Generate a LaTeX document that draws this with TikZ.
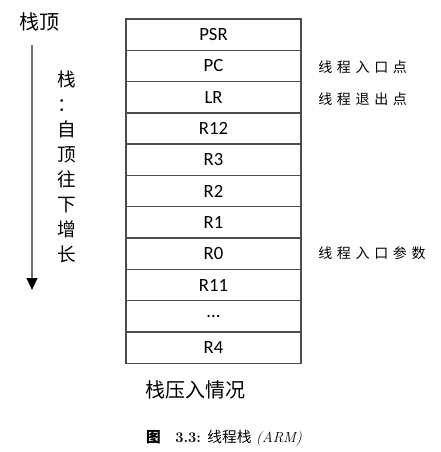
\documentclass[tikz,border=0pt]{standalone}
\usepackage{fontspec}
\setsansfont{Carlito}
\newfontfamily\cjk{Noto Sans CJK SC}
\usetikzlibrary{arrows.meta}
\newcommand\gap{\hspace{3.5pt}}
\tikzset{
  reg/.style={shape=rectangle,draw=black!70,line width=1pt,minimum width=131.25pt,
    minimum height=23.5pt,inner sep=0pt,font=\sffamily\fontsize{14}{14}\selectfont},
  note/.style={anchor=west,inner sep=0pt,font=\cjk\fontsize{10.5}{10.5}\selectfont}
}
\begin{document}
\begin{tikzpicture}[x=0.75pt,y=-0.75pt]
    \useasboundingbox (0,0) rectangle (441,452);
    \node[reg] (PSR) at (213.5,34.6) {PSR};
    \node[reg] (PC) at (213.5,65.9) {PC};
    \node[reg] (LR) at (213.5,97.2) {LR};
    \node[reg] (R12) at (213.5,128.5) {R12};
    \node[reg] (R3) at (213.5,159.8) {R3};
    \node[reg] (R2) at (213.5,191.1) {R2};
    \node[reg] (R1) at (213.5,222.4) {R1};
    \node[reg] (R0) at (213.5,253.7) {R0};
    \node[reg] (R11) at (213.5,285) {R11};
    \node[reg] (DOTS) at (213.5,316.3) {...};
    \node[reg] (R4) at (213.5,347.6) {R4};
    \node[note] (entry) at (318,67) {线\gap 程\gap 入\gap 口\gap 点};
    \node[note] (exit) at (318,99) {线\gap 程\gap 退\gap 出\gap 点};
    \node[note] (param) at (318,253) {线\gap 程\gap 入\gap 口\gap 参\gap 数};
    \node[font=\cjk\fontsize{15}{15}\selectfont] (top) at (39,22) {栈顶};
    \coordinate (start) at (32,45);
    \coordinate (end) at (32,290);
    \draw[black!55,line width=1.6pt,-{Triangle[black,length=9pt,width=8pt]}] (start) -- (end);
    \node[font=\cjk\fontsize{14}{18.75}\selectfont,align=center,anchor=north] (dir) at (67,66)
      {栈\\：\\自\\顶\\往\\下\\增\\长};
    \node[font=\cjk\fontsize{15}{15}\selectfont] (title) at (195,390) {栈压入情况};
    \node[font=\fontsize{11}{11}\selectfont] (cap) at (224,438)
      {{\cjk\bfseries 图}\quad\textbf{3.3:} {\cjk 线程栈} \textit{(ARM)}};
\end{tikzpicture}
\end{document}
